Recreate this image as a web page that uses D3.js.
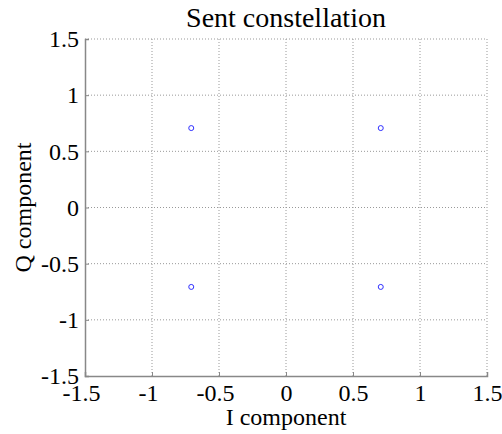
<!DOCTYPE html>
<html>
<head>
<meta charset="utf-8">
<script src="https://cdn.jsdelivr.net/npm/d3@7"></script>
<style>
  html, body { margin: 0; padding: 0; background: #fff; }
  svg { display: block; }
</style>
</head>
<body>
<svg id="chart"></svg>
<script>
// Constellation points (QPSK)
const iValues = [-0.7071, 0.7071, -0.7071, 0.7071];
const qValues = [0.7071, 0.7071, -0.7071, -0.7071];
const xTicks = [-1.5, -1, -0.5, 0, 0.5, 1, 1.5];
const yTicks = [-1.5, -1, -0.5, 0, 0.5, 1, 1.5];
const titleText = 'Sent constellation';
const xLabelText = 'I component';
const yLabelText = 'Q component';

const FONT = '"Liberation Serif"';
const width = 502, height = 434;
const margin = {left: 85, right: 15, top: 39, bottom: 58};

const svg = d3.select('#chart').attr('width', width).attr('height', height);

const x = d3.scaleLinear().domain([-1.5, 1.5]).range([margin.left, width - margin.right]);
const y = d3.scaleLinear().domain([-1.5, 1.5]).range([height - margin.bottom, margin.top]);

// matlab style labels: plain hyphen for minus
const fmt = d => String(d);

// Grid dotted
const grid = svg.append('g');
grid.selectAll('line.gx')
    .data(xTicks.slice(1))
    .enter().append('line')
    .attr('x1', d => x(d)).attr('x2', d => x(d))
    .attr('y1', y(-1.5)).attr('y2', y(1.5))
    .attr('stroke', '#999').attr('stroke-width', 1)
    .attr('stroke-dasharray', '1,2');
grid.selectAll('line.gy')
    .data(yTicks.slice(1))
    .enter().append('line')
    .attr('y1', d => y(d)).attr('y2', d => y(d))
    .attr('x1', x(-1.5)).attr('x2', x(1.5))
    .attr('stroke', '#999').attr('stroke-width', 1)
    .attr('stroke-dasharray', '1,2');

// Axes (box off, only left and bottom)
const xAxis = svg.append('g')
    .attr('transform', `translate(0,${y(-1.5)})`)
    .call(d3.axisBottom(x).tickValues(xTicks).tickSize(-4).tickPadding(12).tickFormat(fmt));
const yAxis = svg.append('g')
    .attr('transform', `translate(${x(-1.5)},0)`)
    .call(d3.axisLeft(y).tickValues(yTicks).tickSize(-4).tickPadding(6).tickFormat(fmt));

[xAxis, yAxis].forEach(ax => {
    ax.select('.domain').attr('stroke', '#888').attr('stroke-width', 1.5);
    ax.selectAll('.tick line').attr('stroke', '#888');
    ax.selectAll('.tick text')
        .style('font-family', FONT)
        .style('font-size', '24px')
        .attr('fill', '#000');
});
xAxis.selectAll('.tick text')
    .attr('dy', '0.55em')
    .attr('dx', d => d < 0 ? -4 : 0);

// Points
svg.append('g').selectAll('circle')
    .data(iValues.map((v, i) => [v, qValues[i]]))
    .enter().append('circle')
    .attr('cx', d => x(d[0]))
    .attr('cy', d => y(d[1]))
    .attr('r', 2.5)
    .attr('fill', 'none')
    .attr('stroke', '#3030ff')
    .attr('stroke-width', 1);

// Labels
svg.append('text')
    .attr('x', (x(-1.5) + x(1.5)) / 2)
    .attr('y', 27)
    .attr('text-anchor', 'middle')
    .style('font-family', FONT)
    .style('font-size', '28px')
    .text(titleText);

svg.append('text')
    .attr('x', (x(-1.5) + x(1.5)) / 2)
    .attr('y', 425)
    .attr('text-anchor', 'middle')
    .style('font-family', FONT)
    .style('font-size', '24px')
    .text(xLabelText);

svg.append('text')
    .attr('transform', `translate(31,${(y(-1.5) + y(1.5)) / 2}) rotate(-90)`)
    .attr('text-anchor', 'middle')
    .style('font-family', FONT)
    .style('font-size', '24px')
    .text(yLabelText);
</script>
</body>
</html>
